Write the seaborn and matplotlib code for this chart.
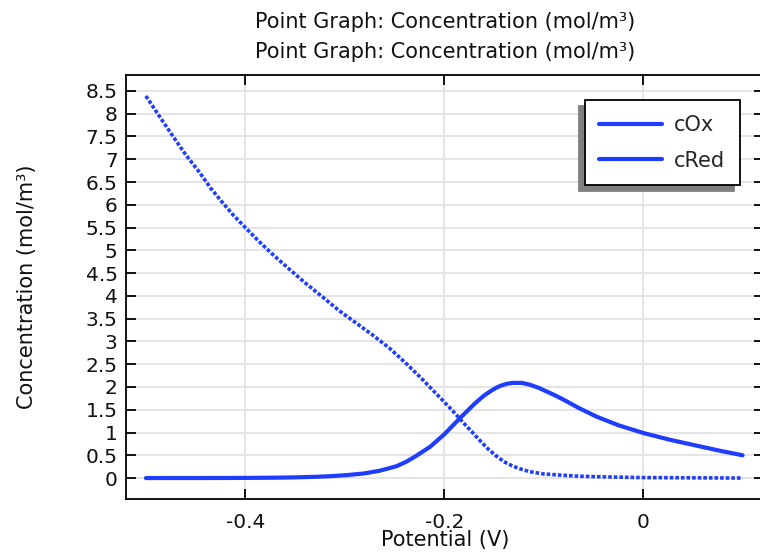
import numpy as np
import pandas as pd
import matplotlib
matplotlib.use("Agg")
import matplotlib.pyplot as plt
import seaborn as sns
from matplotlib.lines import Line2D

# cOx
oxPotential = [-0.5, -0.486, -0.473, -0.46, -0.446, -0.435, -0.423, -0.412, -0.4, -0.387,
               -0.373, -0.356, -0.339, -0.322, -0.306, -0.289, -0.272, -0.255, -0.238, -0.223,
               -0.212, -0.2, -0.19, -0.181, -0.172, -0.164, -0.156, -0.148, -0.14, -0.131,
               -0.122, -0.114, -0.1, -0.08, -0.064, -0.047, -0.025, 0.0, 0.05, 0.1]
oxConc = [8.39, 7.93, 7.51, 7.1, 6.71, 6.37, 6.05, 5.77, 5.5, 5.21,
          4.92, 4.59, 4.27, 3.97, 3.68, 3.41, 3.14, 2.85, 2.51, 2.19,
          1.94, 1.67, 1.44, 1.22, 1.01, 0.82, 0.64, 0.49, 0.36, 0.26,
          0.19, 0.14, 0.09, 0.06, 0.04, 0.03, 0.02, 0.01, 0.005, 0.0]

# cRed
redPotential = [-0.5, -0.45, -0.4, -0.37, -0.35, -0.33, -0.315, -0.298, -0.281, -0.265,
                -0.248, -0.238, -0.228, -0.214, -0.2, -0.192, -0.184, -0.177, -0.171, -0.166,
                -0.16, -0.154, -0.148, -0.143, -0.137, -0.131, -0.122, -0.114, -0.105, -0.097,
                -0.088, -0.08, -0.064, -0.047, -0.025, 0.0, 0.027, 0.054, 0.077, 0.1]
redConc = [0.0, 0.0, 0.003, 0.008, 0.015, 0.027, 0.04, 0.065, 0.1, 0.16,
           0.26, 0.36, 0.49, 0.69, 0.96, 1.14, 1.32, 1.47, 1.6, 1.7,
           1.81, 1.9, 1.98, 2.03, 2.07, 2.09, 2.09, 2.05, 1.98, 1.9,
           1.81, 1.72, 1.53, 1.35, 1.16, 0.99, 0.84, 0.71, 0.6, 0.5]

seriesNames = ['cOx', 'cRed']
xTicks = [-0.4, -0.2, 0]
xTickLabels = ['-0.4', '-0.2', '0']
yTicks = [0, 0.5, 1, 1.5, 2, 2.5, 3, 3.5, 4, 4.5, 5, 5.5, 6, 6.5, 7, 7.5, 8, 8.5]
yTickLabels = ['0', '0.5', '1', '1.5', '2', '2.5', '3', '3.5', '4', '4.5', '5', '5.5',
               '6', '6.5', '7', '7.5', '8', '8.5']

sns.set_style("whitegrid")
plt.rcParams['font.family'] = ['DejaVu Sans']
lineColor = '#1f3dff'
gridColor = '#e3e3e3'
textColor = '#111111'

fig = plt.figure(figsize=(7.6, 5.52), dpi=100)
ax = fig.add_axes([126 / 760, 53 / 552, 638 / 760, 424 / 552])

oxDf = pd.DataFrame({'Potential': oxPotential, 'Conc': oxConc})
redDf = pd.DataFrame({'Potential': redPotential, 'Conc': redConc})
sns.lineplot(data=oxDf, x='Potential', y='Conc', ax=ax, color=lineColor, linewidth=2.6,
             linestyle=(0, (1.0, 0.55)), sort=False, estimator=None)
sns.lineplot(data=redDf, x='Potential', y='Conc', ax=ax, color=lineColor, linewidth=3.0,
             sort=False, estimator=None)

ax.set_xlim(-0.52, 0.1215)
ax.set_ylim(-0.46, 8.85)
ax.set_xticks(xTicks)
ax.set_xticklabels(xTickLabels)
ax.set_yticks(yTicks)
ax.set_yticklabels(yTickLabels)
ax.grid(True, color=gridColor, linewidth=1.3)
ax.set_axisbelow(True)
for side in ['left', 'bottom', 'top', 'right']:
    ax.spines[side].set_visible(True)
    ax.spines[side].set_color('black')
    ax.spines[side].set_linewidth(1.3)
ax.tick_params(axis='both', which='major', direction='in', length=7, width=1.3,
               color='black', labelsize=14.5, labelcolor=textColor,
               top=True, right=True, left=True, bottom=True,
               labeltop=False, labelright=False)
ax.tick_params(axis='x', pad=10)
ax.tick_params(axis='y', pad=6)

ax.set_xlabel('Potential (V)', fontsize=15, color=textColor)
ax.set_ylabel('Concentration (mol/m³)', fontsize=15, color=textColor)
ax.xaxis.set_label_coords(0.5, -0.074)
ax.yaxis.set_label_coords(-0.14, 0.5)
ax.set_title('Point Graph: Concentration (mol/m³)\nPoint Graph: Concentration (mol/m³)',
             fontsize=15, color=textColor, pad=12, linespacing=1.62)

handles = [Line2D([0], [0], color=lineColor, linewidth=3.0) for _ in seriesNames]
leg = ax.legend(handles, seriesNames, loc='upper right', bbox_to_anchor=(0.9625, 0.94),
                fontsize=15, frameon=True, fancybox=False, framealpha=1,
                edgecolor='black', handlelength=3.0, handletextpad=0.6,
                borderpad=0.7, labelspacing=0.75, borderaxespad=0,
                shadow={'ox': -4.3, 'oy': -4.3, 'color': '#808080', 'alpha': 1})
leg.get_frame().set_linewidth(1.3)

fig.savefig('out.png', dpi=100)
